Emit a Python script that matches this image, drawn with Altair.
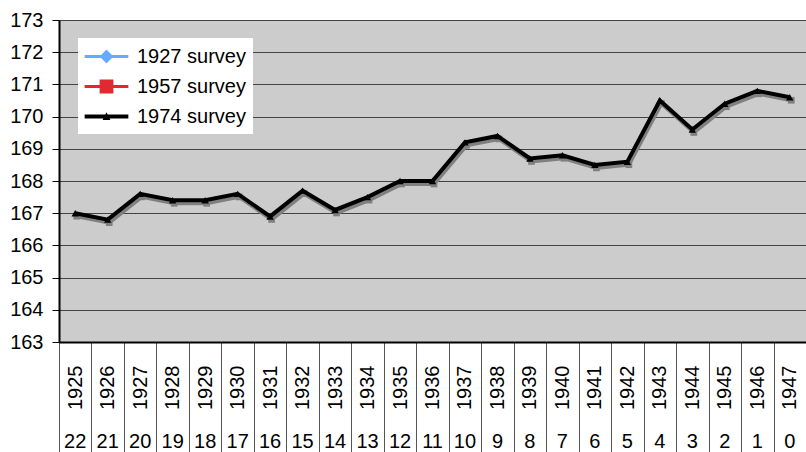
import altair as alt
import pandas as pd

# Birth cohorts and the age they had reached by 1947
birth_years = ["1925", "1926", "1927", "1928", "1929", "1930", "1931", "1932",
               "1933", "1934", "1935", "1936", "1937", "1938", "1939", "1940",
               "1941", "1942", "1943", "1944", "1945", "1946", "1947"]
ages = ["22", "21", "20", "19", "18", "17", "16", "15", "14", "13", "12", "11",
        "10", "9", "8", "7", "6", "5", "4", "3", "2", "1", "0"]

# Mean height (cm), 1974 survey
height_1974 = [167.0, 166.8, 167.6, 167.4, 167.4, 167.6, 166.9, 167.7, 167.1,
               167.5, 168.0, 168.0, 169.2, 169.4, 168.7, 168.8, 168.5, 168.6,
               170.5, 169.6, 170.4, 170.8, 170.6]

surveys = ["1927 survey", "1957 survey", "1974 survey"]
survey_colors = ["#66aaff", "#e02a30", "#000000"]

# Legend glyphs: a bar with the series marker on top (unit = half symbol box)
bar = "M-1.9,-0.14L1.9,-0.14L1.9,0.14L-1.9,0.14Z"
bar_thick = "M-1.9,-0.17L1.9,-0.17L1.9,0.17L-1.9,0.17Z"
glyphs = [
    bar + "M0,-0.6L0.6,0L0,0.6L-0.6,0Z",
    bar + "M-0.6,-0.6L0.6,-0.6L0.6,0.6L-0.6,0.6Z",
    bar_thick + "M0,-0.38L0.34,0.3L-0.34,0.3Z",
]

FONT = "Liberation Sans"
FS = 20

df = pd.DataFrame({"year": birth_years, "age": ages, "height": height_1974})
key_df = pd.DataFrame({"survey": surveys, "height": [None, None, None]})

x_year = alt.X(
    "year:N",
    scale=alt.Scale(type="band", domain=birth_years, paddingInner=0, paddingOuter=0),
    axis=alt.Axis(orient="bottom", title=None, labelAngle=270, labelFontSize=FS,
                  labelFont=FONT, labelColor="black", labelPadding=-87,
                  labelOverlap=False, tickBand="extent", tickSize=110,
                  tickColor="#555555", tickWidth=1, domainColor="black",
                  domainWidth=2, grid=False),
)
y_height = alt.Y(
    "height:Q",
    scale=alt.Scale(domain=[163, 173], nice=False, zero=False),
    axis=alt.Axis(values=list(range(163, 174)), title=None, labelFontSize=FS,
                  labelFont=FONT, labelColor="black", tickSize=7,
                  tickColor="black", labelPadding=9, domainColor="black",
                  domainWidth=2, gridColor="#444444", gridWidth=1,
                  labelOverlap=False),
)

base = alt.Chart(df)

shadow_line = base.mark_line(color="#808080", strokeWidth=4, xOffset=1.5, yOffset=3).encode(x=x_year, y=y_height)
shadow_pts = base.mark_square(color="#808080", size=45, opacity=1, xOffset=1.5, yOffset=3).encode(x=x_year, y=y_height)
line = base.mark_line(color="black", strokeWidth=4).encode(x=x_year, y=y_height)
pts = base.mark_point(shape="triangle-up", filled=True, color="black", size=55, opacity=1).encode(x=x_year, y=y_height)

legend = alt.Legend(
    title=None, orient="none", legendX=19, legendY=18, fillColor="white",
    padding=7, symbolSize=529, symbolOffset=10, labelOffset=19, rowPadding=8,
    labelFontSize=FS, labelFont=FONT, labelColor="black", symbolStrokeWidth=0,
    labelExpr="datum.label + '\u00a0\u00a0\u00a0'",
)
key = alt.Chart(key_df).mark_point(filled=True, opacity=1).encode(
    y=y_height,
    color=alt.Color("survey:N", scale=alt.Scale(domain=surveys, range=survey_colors), legend=legend),
    shape=alt.Shape("survey:N", scale=alt.Scale(domain=surveys, range=glyphs), legend=legend),
)

# Second row of category labels: age in 1947
age_row = base.mark_point(opacity=0).encode(
    x=alt.X("age:N",
            scale=alt.Scale(type="band", domain=ages, paddingInner=0, paddingOuter=0),
            axis=alt.Axis(orient="bottom", title=None, labelAngle=0, labelFontSize=FS,
                          labelFont=FONT, labelColor="black", ticks=False,
                          domain=False, labelPadding=89, grid=False,
                          labelOverlap=False)),
    y=y_height,
)

chart = (
    alt.layer(alt.layer(shadow_line, shadow_pts, line, pts, key), age_row)
    .resolve_scale(x="independent")
    .properties(
        width=747, height=322,
        padding={"left": 59, "top": 20, "right": 0, "bottom": 110},
        autosize=alt.AutoSizeParams(type="none"),
    )
    .configure_view(fill="#cccccc", stroke=None)
)

chart.save("out.html", embed_options={"renderer": "svg", "actions": False})
